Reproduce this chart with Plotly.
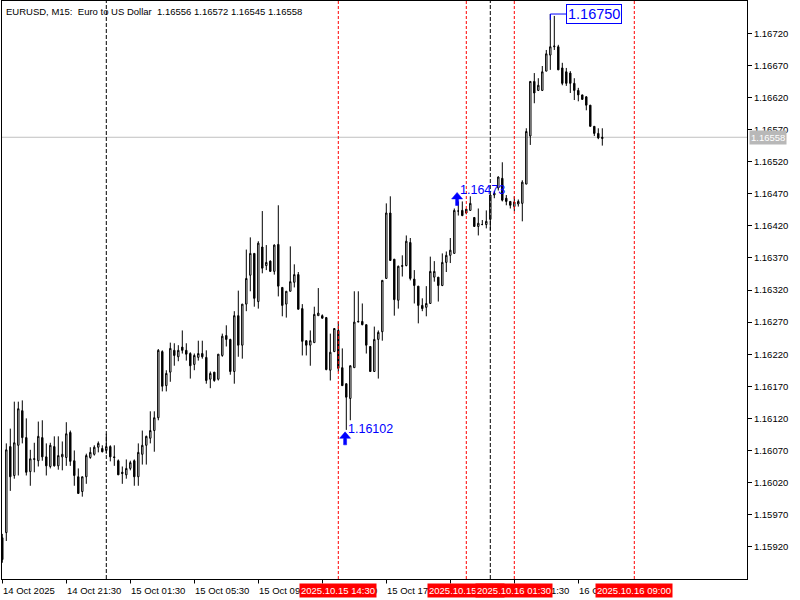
import plotly.graph_objects as go

# ---------------- data (EURUSD M15, bar index 0 = 14 Oct 2025 17:30) ----------------
bar_index = list(range(151))
opens = [1.15934,1.15942,1.16076,1.16031,1.16078,1.16132,1.16090,1.16037,1.16056,1.16054,
         1.16090,1.16060,1.16045,1.16076,1.16046,1.16060,1.16059,1.16098,1.16054,1.16029,
         1.16006,1.16029,1.16059,1.16064,1.16075,1.16073,1.16070,1.16076,1.16060,1.16054,
         1.16036,1.16032,1.16042,1.16054,1.16029,1.16064,1.16078,1.16089,1.16101,1.16121,
         1.16224,1.16171,1.16192,1.16226,1.16216,1.16231,1.16226,1.16221,1.16204,1.16215,
         1.16221,1.16215,1.16181,1.16192,1.16181,1.16218,1.16249,1.16243,1.16193,1.16280,
         1.16234,1.16298,1.16343,1.16377,1.16302,1.16387,1.16358,1.16365,1.16349,1.16391,
         1.16324,1.16298,1.16318,1.16332,1.16344,1.16291,1.16241,1.16234,1.16238,1.16280,
         1.16280,1.16277,1.16195,1.16224,1.16257,1.16199,1.16174,1.16151,1.16199,1.16270,
         1.16271,1.16266,1.16232,1.16193,1.16243,1.16255,1.16338,1.16440,1.16368,1.16304,
         1.16358,1.16358,1.16394,1.16337,1.16326,1.16296,1.16293,1.16299,1.16340,1.16340,
         1.16327,1.16363,1.16374,1.16377,1.16443,1.16444,1.16440,1.16444,1.16433,1.16419,
         1.16422,1.16422,1.16430,1.16468,1.16479,1.16494,1.16463,1.16458,1.16450,1.16454,
         1.16455,1.16485,1.16560,1.16645,1.16631,1.16631,1.16661,1.16686,1.16699,1.16699,
         1.16666,1.16660,1.16658,1.16642,1.16631,1.16624,1.16621,1.16608,1.16575,1.16564,
         1.16556]
highs = [1.15940,1.16081,1.16104,1.16146,1.16146,1.16148,1.16120,1.16071,1.16082,1.16115,
         1.16117,1.16081,1.16082,1.16092,1.16092,1.16084,1.16114,1.16101,1.16070,1.16042,
         1.16029,1.16065,1.16075,1.16078,1.16084,1.16078,1.16096,1.16078,1.16078,1.16056,
         1.16045,1.16056,1.16054,1.16056,1.16081,1.16101,1.16093,1.16131,1.16131,1.16228,
         1.16226,1.16195,1.16238,1.16237,1.16234,1.16257,1.16237,1.16223,1.16221,1.16241,
         1.16241,1.16226,1.16193,1.16192,1.16220,1.16252,1.16265,1.16244,1.16287,1.16319,
         1.16298,1.16383,1.16402,1.16377,1.16396,1.16443,1.16390,1.16366,1.16391,1.16452,
         1.16324,1.16318,1.16388,1.16360,1.16348,1.16298,1.16241,1.16257,1.16294,1.16323,
         1.16282,1.16278,1.16252,1.16260,1.16271,1.16229,1.16174,1.16202,1.16318,1.16318,
         1.16299,1.16266,1.16232,1.16263,1.16257,1.16335,1.16455,1.16466,1.16368,1.16358,
         1.16374,1.16405,1.16401,1.16351,1.16326,1.16307,1.16326,1.16372,1.16365,1.16340,
         1.16377,1.16380,1.16401,1.16447,1.16458,1.16458,1.16446,1.16466,1.16433,1.16447,
         1.16429,1.16444,1.16468,1.16474,1.16497,1.16519,1.16468,1.16458,1.16466,1.16461,
         1.16491,1.16572,1.16645,1.16658,1.16650,1.16669,1.16694,1.16750,1.16747,1.16702,
         1.16674,1.16666,1.16661,1.16650,1.16635,1.16624,1.16622,1.16608,1.16575,1.16572,
         1.16572]
lows = [1.15895,1.15929,1.16007,1.16026,1.16031,1.16081,1.16031,1.16015,1.16036,1.16045,
        1.16054,1.16031,1.16042,1.16045,1.16040,1.16039,1.16046,1.16046,1.16015,1.16003,
        1.15998,1.16018,1.16057,1.16062,1.16067,1.16067,1.16065,1.16053,1.16046,1.16032,
        1.16018,1.16026,1.16039,1.16015,1.16015,1.16048,1.16048,1.16081,1.16068,1.16117,
        1.16162,1.16162,1.16177,1.16202,1.16209,1.16221,1.16210,1.16182,1.16195,1.16210,
        1.16213,1.16174,1.16167,1.16177,1.16179,1.16216,1.16232,1.16188,1.16174,1.16216,
        1.16213,1.16287,1.16318,1.16294,1.16291,1.16346,1.16351,1.16349,1.16344,1.16310,
        1.16279,1.16277,1.16318,1.16324,1.16290,1.16218,1.16218,1.16202,1.16238,1.16280,
        1.16276,1.16195,1.16179,1.16224,1.16193,1.16171,1.16102,1.16117,1.16199,1.16270,
        1.16265,1.16221,1.16193,1.16193,1.16182,1.16241,1.16338,1.16366,1.16280,1.16291,
        1.16341,1.16357,1.16335,1.16299,1.16268,1.16287,1.16279,1.16299,1.16333,1.16302,
        1.16326,1.16348,1.16362,1.16377,1.16436,1.16435,1.16438,1.16444,1.16419,1.16405,
        1.16421,1.16416,1.16413,1.16463,1.16475,1.16458,1.16452,1.16447,1.16443,1.16450,
        1.16427,1.16485,1.16546,1.16611,1.16630,1.16630,1.16661,1.16663,1.16694,1.16663,
        1.16639,1.16638,1.16627,1.16616,1.16614,1.16617,1.16600,1.16575,1.16560,1.16555,
        1.16545]
closes = [1.15900,1.16071,1.16029,1.16082,1.16135,1.16090,1.16036,1.16057,1.16057,1.16092,
          1.16060,1.16046,1.16078,1.16046,1.16062,1.16064,1.16096,1.16053,1.16031,1.16003,
          1.16029,1.16062,1.16067,1.16075,1.16081,1.16068,1.16076,1.16060,1.16059,1.16032,
          1.16034,1.16042,1.16051,1.16029,1.16067,1.16078,1.16092,1.16101,1.16121,1.16226,
          1.16170,1.16190,1.16229,1.16218,1.16226,1.16226,1.16220,1.16202,1.16218,1.16221,
          1.16216,1.16179,1.16190,1.16179,1.16220,1.16248,1.16243,1.16193,1.16280,1.16234,
          1.16298,1.16338,1.16377,1.16307,1.16393,1.16354,1.16363,1.16349,1.16390,1.16326,
          1.16296,1.16318,1.16333,1.16344,1.16290,1.16240,1.16234,1.16241,1.16282,1.16284,
          1.16276,1.16196,1.16223,1.16260,1.16198,1.16171,1.16153,1.16202,1.16270,1.16271,
          1.16266,1.16234,1.16193,1.16243,1.16254,1.16335,1.16440,1.16366,1.16305,1.16357,
          1.16357,1.16396,1.16338,1.16327,1.16296,1.16291,1.16299,1.16349,1.16349,1.16327,
          1.16363,1.16374,1.16382,1.16444,1.16443,1.16436,1.16446,1.16455,1.16419,1.16424,
          1.16422,1.16427,1.16468,1.16471,1.16496,1.16460,1.16458,1.16452,1.16457,1.16458,
          1.16488,1.16567,1.16645,1.16627,1.16639,1.16660,1.16688,1.16699,1.16700,1.16663,
          1.16642,1.16642,1.16642,1.16631,1.16624,1.16617,1.16608,1.16575,1.16564,1.16557,
          1.16558]

time_tick_index = [0, 16, 32, 48, 64, 80, 96, 112, 128, 144]
time_tick_text = ["14 Oct 2025", "14 Oct 21:30", "15 Oct 01:30", "15 Oct 05:30",
                  "15 Oct 09:30", "15 Oct 13:30", "15 Oct 17:30", "15 Oct 21:30",
                  "16 Oct 01:30", "16 Oct 05:30"]
price_ticks = [1.15920, 1.15970, 1.16020, 1.16070, 1.16120, 1.16170, 1.16220, 1.16270,
               1.16320, 1.16370, 1.16420, 1.16470, 1.16520, 1.16570, 1.16620, 1.16670, 1.16720]
price_tick_text = ["%.5f" % p for p in price_ticks]

day_separator_index = [26, 122]
event_index = [84, 116, 128, 158]
event_text = ["2025.10.15 14:30", "2025.10.15 22:30", "2025.10.16 01:30", "2025.10.16 09:00"]

last_price = 1.16558
title_text = "EURUSD, M15:  Euro to US Dollar  1.16556 1.16572 1.16545 1.16558"
max_index = 137
max_price = 1.16750
arrow_index = [86, 114]
arrow_price = [1.16099, 1.16472]
arrow_label = ["1.16102", "1.16473"]
arrow_label_price = [1.16104, 1.16476]

FONT = "Liberation Sans, Arial, sans-serif"
BLUE = "#0000ff"

# axis ranges (plot box 2..747 px wide, 1..579 px tall)
y_lo, y_hi = 1.158697, 1.167703
x_lo, x_hi = -0.075, 186.175
PX_X = (x_hi - x_lo) / 745.0   # bar units per pixel
PX_Y = (y_hi - y_lo) / 578.0   # price per pixel

fig = go.Figure()
fig.add_trace(go.Candlestick(
    x=bar_index, open=opens, high=highs, low=lows, close=closes,
    increasing=dict(fillcolor="white", line=dict(color="black", width=1)),
    decreasing=dict(fillcolor="black", line=dict(color="black", width=1)),
    whiskerwidth=0, showlegend=False, hoverinfo="skip",
))

shapes = []
shapes.append(dict(type="line", xref="paper", yref="y", x0=0, x1=1, y0=last_price, y1=last_price,
                   line=dict(color="#c0c0c0", width=1), layer="below"))
for xi in day_separator_index:
    shapes.append(dict(type="line", xref="x", yref="paper", x0=xi, x1=xi, y0=0, y1=1,
                       line=dict(color="black", width=1, dash="4px,2px"), layer="above"))
for xi in event_index:
    shapes.append(dict(type="line", xref="x", yref="paper", x0=xi, x1=xi, y0=0, y1=1,
                       line=dict(color="red", width=1, dash="3px,2px"), layer="above"))
# connector to the max label
shapes.append(dict(type="path", xref="x", yref="y",
                   path="M %g,%g L %g,%g L %g,%g" % (max_index, max_price - 6 * PX_Y, max_index, max_price,
                                                     max_index + 16 * PX_X, max_price),
                   line=dict(color=BLUE, width=1), layer="above"))
# up-arrow markers (pixel-sized polygon anchored at the marked price)
arrow_shape_px = [(0, 0), (5.5, 6.5), (1.5, 6.5), (1.5, 13), (-1.5, 13), (-1.5, 6.5), (-5.5, 6.5)]
for xi, p in zip(arrow_index, arrow_price):
    pts = [(xi - 1.2 * PX_X + ox * PX_X, p - oy * PX_Y) for ox, oy in arrow_shape_px]
    path = "M " + " L ".join("%.5f,%.6f" % pt for pt in pts) + " Z"
    shapes.append(dict(type="path", xref="x", yref="y", path=path, fillcolor=BLUE,
                       line=dict(color=BLUE, width=0.5), layer="above"))

ann = []
ann.append(dict(text=title_text, xref="paper", yref="paper", x=0, y=1, xanchor="left", yanchor="top",
                xshift=2, yshift=-3, showarrow=False, font=dict(family=FONT, size=9.5, color="black")))
for xi, t in zip(time_tick_index, time_tick_text):
    ann.append(dict(text=t, xref="x", yref="paper", x=xi, y=0, xanchor="left", yanchor="top",
                    xshift=-1, yshift=-4, showarrow=False, bgcolor="white", borderpad=1,
                    font=dict(family=FONT, size=9.5, color="black")))
for xi, t in zip(event_index, event_text):
    ann.append(dict(text=t, xref="x", yref="paper", x=xi, y=0, xanchor="center", yanchor="top",
                    yshift=-4, showarrow=False, bgcolor="red", borderpad=1,
                    font=dict(family=FONT, size=9.5, color="white")))
ann.append(dict(text="%.5f" % last_price, xref="paper", yref="y", x=1, y=last_price, xanchor="left",
                yanchor="middle", xshift=2, showarrow=False, bgcolor="#b8b8b8", borderpad=1,
                font=dict(family=FONT, size=9.5, color="white")))
ann.append(dict(text="%.5f" % max_price, xref="x", yref="y", x=max_index + 16 * PX_X, y=max_price,
                xanchor="left", yanchor="middle", showarrow=False, bgcolor="white",
                bordercolor=BLUE, borderwidth=1, borderpad=1,
                font=dict(family=FONT, size=14.5, color=BLUE)))
for xi, lab, lp in zip(arrow_index, arrow_label, arrow_label_price):
    ann.append(dict(text=lab, xref="x", yref="y", x=xi, y=lp, xanchor="left", yanchor="middle",
                    xshift=0, showarrow=False, font=dict(family=FONT, size=12.5, color=BLUE)))

fig.update_layout(
    width=800, height=600,
    margin=dict(l=2, r=53, t=1, b=21, pad=0),
    paper_bgcolor="white", plot_bgcolor="white",
    boxgap=0.5,
    shapes=shapes, annotations=ann,
    xaxis=dict(range=[x_lo, x_hi], showgrid=False, zeroline=False, showline=True, linecolor="black",
               linewidth=1, mirror=True, ticks="outside", ticklen=4, tickcolor="black",
               tickvals=time_tick_index, showticklabels=False, rangeslider=dict(visible=False),
               fixedrange=True),
    yaxis=dict(range=[y_lo, y_hi], side="right", showgrid=False, zeroline=False, showline=True,
               linecolor="black", linewidth=1, mirror=True, ticks="outside", ticklen=4,
               tickcolor="black", tickvals=price_ticks, ticktext=price_tick_text,
               tickfont=dict(family=FONT, size=9.5, color="black"), fixedrange=True),
    showlegend=False,
)

fig.write_html("out.html", config={"displayModeBar": False},
               post_script="document.body.style.margin='0';document.body.style.padding='0';")
